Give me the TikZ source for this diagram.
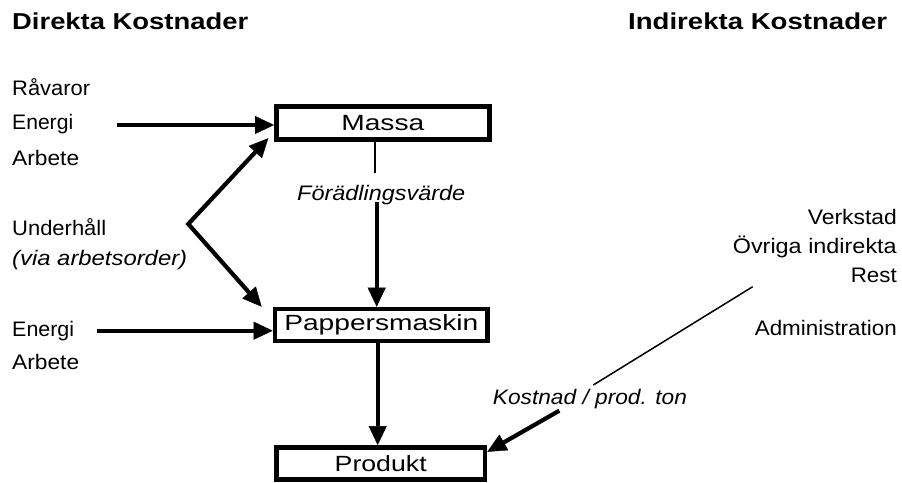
\documentclass[tikz,border=0pt]{standalone}
\usepackage{fontspec}
\setmainfont{Liberation Sans}
\usetikzlibrary{arrows.meta,calc}
% set a text to a given width, keeping its height
\newcommand\fitto[2]{\resizebox{#1}{\height}{#2}}

\begin{document}
\begin{tikzpicture}[x=1pt,y=-1pt,
  lbl/.style={inner sep=0pt,font=\fontsize{21}{25}\selectfont},
  ilbl/.style={inner sep=0pt,font=\fontsize{21}{25}\selectfont\itshape},
  head/.style={inner sep=0pt,font=\fontsize{23}{27}\selectfont\bfseries},
  box/.style={draw,line width=4.6pt,inner sep=0pt,font=\fontsize{22}{26}\selectfont},
  flow/.style={line width=4.2pt,-{Triangle[length=19pt,width=18pt,line width=0.4pt]}},
  link/.style={line width=1.5pt}]
\useasboundingbox (0,0) rectangle (902,482);

% column headings
\node[head,anchor=base west] (hdir) at (12,29.5) {\fitto{236pt}{Direkta Kostnader}};
\node[head,anchor=base west] (hind) at (628,29.5) {\fitto{259pt}{Indirekta Kostnader}};

% process boxes
\node[box,minimum width=213pt,minimum height=33pt] (massa) at (382.8,122.8) {\fitto{83pt}{Massa}};
\node[box,minimum width=212.7pt,minimum height=32pt] (pm) at (381.3,325) {\fitto{194pt}{Pappersmaskin}};
\node[box,minimum width=208.7pt,minimum height=32pt] (prod) at (380.7,463.4) {\fitto{92pt}{Produkt}};

% direct cost inputs
\node[lbl,anchor=base west] (rav) at (12,95) {\fitto{78pt}{Råvaror}};
\node[lbl,anchor=base west] (en1) at (12,129.5) {\fitto{61pt}{Energi}};
\node[lbl,anchor=base west] (arb1) at (12,165) {\fitto{67pt}{Arbete}};
\node[lbl,anchor=base west] (uh) at (12,235) {\fitto{94pt}{Underhåll}};
\node[ilbl,anchor=base west] (via) at (12,265.5) {\fitto{175pt}{(via arbetsorder)}};
\node[lbl,anchor=base west] (en2) at (12,336) {\fitto{62pt}{Energi}};
\node[lbl,anchor=base west] (arb2) at (12,369.5) {\fitto{67pt}{Arbete}};

% indirect cost items
\node[lbl,anchor=base east] (verk) at (897,224) {\fitto{89pt}{Verkstad}};
\node[lbl,anchor=base east] (ovr) at (897,253.3) {\fitto{164pt}{Övriga indirekta}};
\node[lbl,anchor=base east] (rest) at (897,282.7) {\fitto{46pt}{Rest}};
\node[lbl,anchor=base east] (adm) at (897,335) {\fitto{142pt}{Administration}};

% flow labels
\node[ilbl,anchor=base west] (fv) at (297,200) {\fitto{168pt}{Förädlingsvärde}};
\node[ilbl,anchor=base west] (kpt) at (492.7,404) {\fitto{194pt}{Kostnad / prod. ton}};

% arrows into Massa and Pappersmaskin
\coordinate (e1s) at (117,125);
\draw[flow] (e1s) -- (e1s -| massa.west);
\coordinate (e2s) at (97,330.7);
\draw[flow] (e2s) -- (e2s -| pm.west);

% maintenance feeds both units
\coordinate (uv) at (188.3,224);
\draw[line width=4.2pt,line join=miter,
      {Triangle[length=19pt,width=18pt,line width=0.4pt]}-{Triangle[length=19pt,width=18pt,line width=0.4pt]}]
  ($(massa.south west)+(-5.7,-3.4)$) -- (uv) -- ($(pm.north west)+(-11,0)$);

% value added from Massa to Pappersmaskin
\coordinate (fvtop) at (375,173.3);
\draw[link] (fvtop |- massa.south) -- (fvtop);
\coordinate (fvbot) at (376.7,201.7);
\draw[flow] (fvbot) -- (fvbot |- pm.north);

% Pappersmaskin to Produkt
\coordinate (pmx) at (377.7,0);
\draw[flow] (pmx |- pm.south) -- (pmx |- prod.north);

% indirect costs allocated per produced ton
\coordinate (dstart) at (752.7,286.7);
\coordinate (dend) at (593.3,385);
\draw[link] (dstart) -- (dend);
\coordinate (kstart) at (559.3,410.7);
\draw[flow] (kstart) -- ($(prod.north east)+(0,6.7)$);
\end{tikzpicture}
\end{document}
